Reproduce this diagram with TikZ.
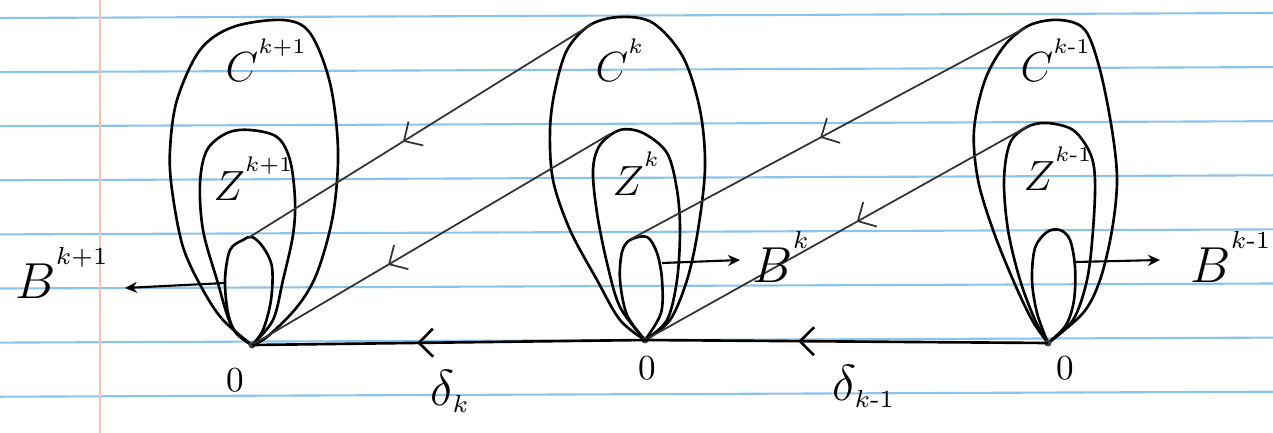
\documentclass[tikz,border=0pt]{standalone}
\usepackage{amsmath}
\usetikzlibrary{arrows.meta,decorations.markings}
\definecolor{ruleblue}{RGB}{140,195,235}
\definecolor{marginred}{RGB}{245,195,175}
\newcommand{\hsup}[1]{^{\raisebox{0.7ex}{$\scriptscriptstyle #1$}}}

\begin{document}
\begin{tikzpicture}[
  x=0.1mm, y=-0.1mm,
  >=Stealth,
  rule/.style={ruleblue,line width=0.6pt},
  margin/.style={marginred,line width=0.8pt},
  outline/.style={line width=0.75pt,line join=round},
  diag/.style={line width=0.5pt,black!80},
  midarrow/.style={postaction={decorate},decoration={markings,
      mark=at position #1 with {\arrow{Straight Barb[length=1.4mm,width=2.8mm]}}}},
  barrow/.style={line width=0.6pt,-{Stealth[length=1.2mm,width=1.1mm]}},
  lbl/.style={font=\large,inner sep=0pt,anchor=base west},
  blbl/.style={font=\Large,inner sep=0pt,anchor=base west},
  zero/.style={font=\normalsize,inner sep=0pt},
]

\useasboundingbox (0,0) rectangle (1273,433);

%% -- ruled paper ---------------------------------------------------------
\foreach \i in {0,...,7}
  \draw[rule] (0,{18+54.1*\i}) -- (1273,{13+54.1*\i});
\draw[margin] (100,0) -- (100,433);

%% -- base points -----------------------------------------------------------
\coordinate (O1) at (252,345);
\coordinate (O2) at (645,340);
\coordinate (O3) at (1048,343);

%% -- sets of step k+1 ------------------------------------------------------
\draw[outline] plot[smooth,tension=0.55] coordinates {(252,345) (223,320)
  (203,290) (183,247) (172,190) (170,150) (177,100) (200,50) (233,27)
  (283,20) (310,33) (330,83) (338,150) (333,215) (317,273) (297,307)
  (267,337) (252,345)};
\draw[outline] plot[smooth,tension=0.55] coordinates {(252,345) (232,327)
  (217,280) (203,230) (200,183) (207,150) (227,133) (250,130) (277,137)
  (290,160) (295,200) (293,235) (283,280) (273,320) (252,345)};
\draw[outline] plot[smooth,tension=0.55] coordinates {(252,345) (236,333)
  (228,313) (225,280) (230,250) (243,240) (252,237) (263,247) (272,267)
  (271,300) (263,330) (252,345)};

%% -- sets of step k --------------------------------------------------------
\draw[outline] plot[smooth,tension=0.55] coordinates {(645,340) (620,320)
  (597,280) (570,230) (553,180) (550,130) (555,90) (567,50) (590,25)
  (620,17) (653,23) (683,57) (700,110) (705,167) (698,230) (687,280)
  (670,320) (645,340)};
\draw[outline] plot[smooth,tension=0.55] coordinates {(645,340) (620,307)
  (607,263) (597,213) (593,170) (600,145) (620,130) (643,133) (667,153)
  (677,190) (680,230) (677,280) (667,320) (645,340)};
\draw[outline] plot[smooth,tension=0.55] coordinates {(645,340) (627,315)
  (620,280) (622,252) (630,240) (647,237) (657,253) (662,280) (661,313)
  (645,340)};

%% -- sets of step k-1 ------------------------------------------------------
\draw[outline] plot[smooth,tension=0.55] coordinates {(1048,343) (1032,320)
  (1013,280) (993,230) (978,180) (974,130) (985,80) (1005,45) (1030,25)
  (1060,20) (1085,30) (1100,70) (1112,130) (1117,180) (1112,230) (1100,280)
  (1083,313) (1048,343)};
\draw[outline] plot[smooth,tension=0.55] coordinates {(1048,343) (1035,320)
  (1020,280) (1008,230) (1004,180) (1010,143) (1027,127) (1047,123)
  (1073,130) (1090,153) (1095,180) (1093,230) (1087,280) (1073,320)
  (1048,343)};
\draw[outline] plot[smooth,tension=0.55] coordinates {(1048,343) (1037,313)
  (1032,280) (1035,248) (1047,232) (1060,230) (1070,240) (1075,267)
  (1074,300) (1066,325) (1048,343)};

\foreach \o in {O1,O2,O3}
  \fill[black!75] (\o) circle[radius=0.35mm];

%% -- points on the sets ----------------------------------------------------
\coordinate (B1top) at (248,238);
\coordinate (B2top) at (631,239);
\coordinate (C2tl)  at (592,24);
\coordinate (Z2tl)  at (610,134);
\coordinate (C3tl)  at (1025,28);
\coordinate (Z3tl)  at (1030,125);
\coordinate (B1w) at (225,283);  \coordinate (B1out) at (125,288);
\coordinate (B2e) at (662,263);  \coordinate (B2out) at (740,260);
\coordinate (B3e) at (1075,262); \coordinate (B3out) at (1160,260);

%% -- maps between steps ----------------------------------------------------
\draw[diag,midarrow=0.55] (C2tl) -- (B1top);
\draw[diag,midarrow=0.62] (Z2tl) -- (O1);
\draw[diag,midarrow=0.52] (C3tl) -- (B2top);
\draw[diag,midarrow=0.45] (Z3tl) -- (O2);

\draw[outline,midarrow=0.62] (O3) -- (O2);
\draw[outline,midarrow=0.58] (O2) -- (O1);

\draw[barrow] (B1w) -- (B1out);
\draw[barrow] (B2e) -- (B2out);
\draw[barrow] (B3e) -- (B3out);

%% -- labels ----------------------------------------------------------------
\node[lbl] (lC1) at (225,82)  {$C\hsup{k+1}$};
\node[lbl] (lZ1) at (213,200) {$Z\hsup{k+1}$};
\node[lbl] (lC2) at (595,82)  {$C\hsup{k}$};
\node[lbl] (lZ2) at (612,195) {$Z\hsup{k}$};
\node[lbl] (lC3) at (1020,82) {$C\hsup{k\text{-}1}$};
\node[lbl] (lZ3) at (1023,190) {$Z\hsup{k\text{-}1}$};
\node[blbl] (lB1) at (15,298)  {$B\hsup{k+1}$};
\node[blbl] (lB2) at (752,282) {$B\hsup{k}$};
\node[blbl] (lB3) at (1190,282) {$B\hsup{k\text{-}1}$};

\node[zero] (z1) at (235,380)  {$0$};
\node[zero] (z2) at (647,368)  {$0$};
\node[zero] (z3) at (1065,368) {$0$};

\node[blbl] (d1) at (430,405) {$\delta_{\scriptscriptstyle k}$};
\node[blbl] (d2) at (832,400) {$\delta_{\scriptscriptstyle k\text{-}1}$};

\end{tikzpicture}
\end{document}
